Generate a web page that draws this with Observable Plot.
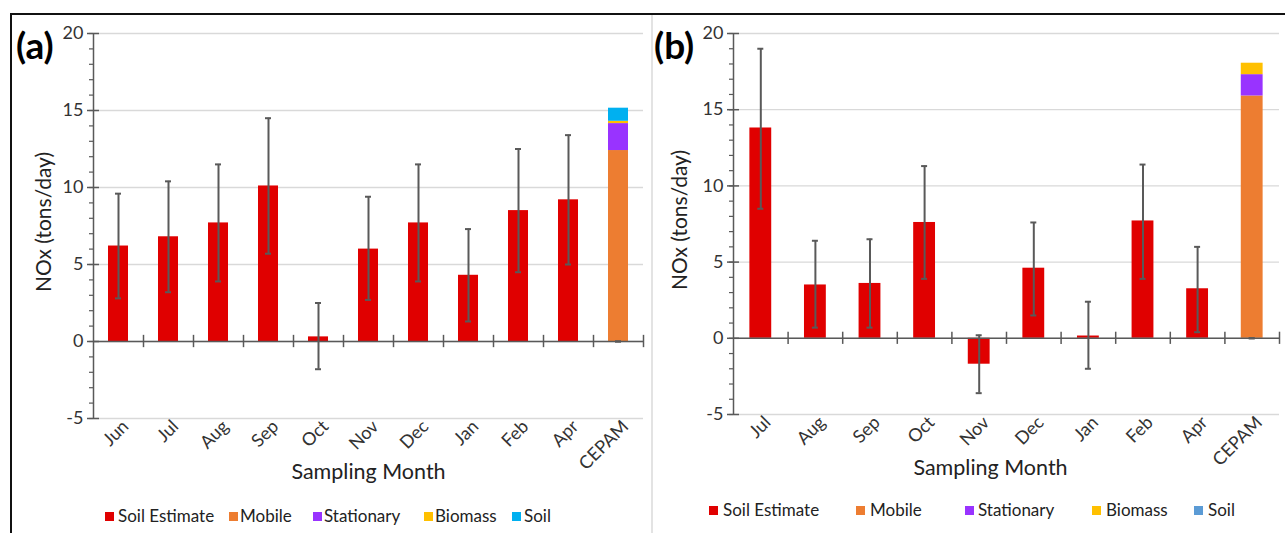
<!DOCTYPE html>
<html><head><meta charset="utf-8">
<script src="https://cdn.jsdelivr.net/npm/d3@7"></script>
<script src="https://cdn.jsdelivr.net/npm/@observablehq/plot@0.6"></script>
<style>
body{margin:0;background:#fff;font-family:Lato,"Open Sans",sans-serif;}
#page{position:relative;width:1285px;height:533px;overflow:hidden;background:#fff;}
.abs{position:absolute;}
.tag{position:absolute;font-weight:bold;font-size:37px;color:#000;line-height:1;}
.sw{position:absolute;width:9px;height:9px;}
.lt{position:absolute;font-size:17px;color:#222;line-height:1;white-space:nowrap;}
svg{overflow:visible;}
</style></head>
<body><div id="page"></div>
<script>
// ---- data ----
const legendLabels = ["Soil Estimate", "Mobile", "Stationary", "Biomass", "Soil"];
const sources = ["Mobile", "Stationary", "Biomass", "Soil"];
const yTicks = [-5, 0, 5, 10, 15, 20];
const yMinor = d3.range(-5, 21, 1);

const monthsA = ["Jun", "Jul", "Aug", "Sep", "Oct", "Nov", "Dec", "Jan", "Feb", "Apr"];
const soilEstA = [6.2, 6.8, 7.7, 10.1, 0.3, 6.0, 7.7, 4.3, 8.5, 9.2];
const errLowA = [2.8, 3.2, 3.9, 5.7, -1.8, 2.7, 3.9, 1.3, 4.5, 5.0];
const errHighA = [9.6, 10.4, 11.5, 14.5, 2.5, 9.4, 11.5, 7.3, 12.5, 13.4];
const cepamA = [12.4, 1.75, 0.15, 0.85];

const monthsB = ["Jul", "Aug", "Sep", "Oct", "Nov", "Dec", "Jan", "Feb", "Apr"];
const soilEstB = [13.8, 3.5, 3.6, 7.6, -1.7, 4.6, 0.15, 7.7, 3.25];
const errLowB = [8.5, 0.7, 0.7, 3.9, -3.6, 1.5, -2.0, 3.9, 0.4];
const errHighB = [19.0, 6.4, 6.5, 11.3, 0.2, 7.6, 2.4, 11.4, 6.0];
const cepamB = [15.9, 1.4, 0.75, 0];

const colorsA = ["#E00000", "#ED7D31", "#9933FF", "#FFC000", "#00B0F0"];
const colorsB = ["#E00000", "#ED7D31", "#9933FF", "#FFC000", "#5B9BD5"];

const page = document.getElementById("page");

function panel({months, est, lo, hi, cepam, colors, width, height, ml, mr, mt, mb, ylabDx, xlabDx, xlabDy}) {
  const cats = [...months, "CEPAM"];
  const n = cats.length;
  const step = (width - ml - mr) / n;
  const bw = step * 0.4;
  const capInset = (bw - 6) / 2;
  const rows = [];
  months.forEach((m, i) => rows.push({cat: m, source: "Soil Estimate", value: est[i]}));
  sources.forEach((s, i) => rows.push({cat: "CEPAM", source: s, value: cepam[i]}));
  const errs = months.map((m, i) => ({cat: m, lo: lo[i], hi: hi[i]}));
  errs.push({cat: "CEPAM", lo: 0, hi: 0});
  const axisColor = "#595959";
  return Plot.plot({
    width, height, marginLeft: ml, marginRight: mr, marginTop: mt, marginBottom: mb,
    style: {fontFamily: "Lato, sans-serif", fontSize: "18px", color: "#333", background: "transparent", overflow: "visible"},
    x: {domain: cats, paddingInner: 0.6, paddingOuter: 0.3, round: false, label: null},
    y: {domain: [-5, 20], label: null},
    color: {domain: legendLabels, range: colors},
    marks: [
      Plot.gridY(yTicks, {stroke: "#d9d9d9", strokeOpacity: 1, strokeWidth: 1.3}),
      Plot.barY(rows, {x: "cat", y: "value", fill: "source"}),
      Plot.ruleX(errs, {x: "cat", y1: "lo", y2: "hi", stroke: "#595959", strokeWidth: 2}),
      Plot.tickY(errs, {x: "cat", y: "lo", stroke: "#595959", strokeWidth: 2, insetLeft: capInset, insetRight: capInset}),
      Plot.tickY(errs, {x: "cat", y: "hi", stroke: "#595959", strokeWidth: 2, insetLeft: capInset, insetRight: capInset}),
      Plot.ruleY([0], {stroke: axisColor, strokeWidth: 1.5}),
      Plot.ruleX(cats, {x: d => d, y1: -0.4, y2: 0.4, dx: step / 2, stroke: axisColor, strokeWidth: 1.5}),
      Plot.ruleX([cats[0]], {x: d => d, y1: -5, y2: 20, dx: -step / 2, stroke: axisColor, strokeWidth: 1.5}),
      Plot.axisY({ticks: yTicks, tickSize: 12, dx: 6, text: null, stroke: axisColor, strokeWidth: 1.5}),
      Plot.axisY({ticks: yMinor, tickSize: 4, text: null, stroke: axisColor, strokeWidth: 1.2}),
      Plot.axisY({ticks: yTicks, tickSize: 0, tickPadding: 10, tickFormat: d => String(d), fontSize: 18, fill: "#333", label: null}),
      Plot.axisX({tickRotate: -45, tickSize: 0, tickPadding: 5, dx: 7, fontSize: 18, fill: "#333", label: null}),
      Plot.text(["NOx (tons/day)"], {frameAnchor: "left", textAnchor: "middle", rotate: -90, dx: ylabDx, dy: -4, fontSize: 21, fill: "#222"}),
      Plot.text(["Sampling Month"], {frameAnchor: "bottom", dx: xlabDx, dy: xlabDy, fontSize: 21.5, fill: "#222"})
    ]
  });
}

function place(el, left, top) {
  const wrap = document.createElement("div");
  wrap.className = "abs";
  wrap.style.left = left + "px";
  wrap.style.top = top + "px";
  wrap.appendChild(el);
  page.appendChild(wrap);
}

function line(l, t, w, h, c) {
  const d = document.createElement("div");
  d.className = "abs";
  Object.assign(d.style, {left: l + "px", top: t + "px", width: w + "px", height: h + "px", background: c});
  page.appendChild(d);
}

const plotA = panel({months: monthsA, est: soilEstA, lo: errLowA, hi: errHighA, cepam: cepamA, colors: colorsA,
  width: 641, height: 480, ml: 82, mr: 9, mt: 19, mb: 76, ylabDx: -49, xlabDx: 0, xlabDy: 60});
place(plotA, 11, 14);
const plotB = panel({months: monthsB, est: soilEstB, lo: errLowB, hi: errHighB, cepam: cepamB, colors: colorsB,
  width: 632, height: 480, ml: 80, mr: 6, mt: 19, mb: 80, ylabDx: -53, xlabDx: -16, xlabDy: 60});
place(plotB, 653, 14);

line(10, 13, 1275, 2, "#111");
line(10, 13, 2, 520, "#111");
line(651, 15, 2, 518, "#e3e3e3");

function tag(txt, l, t) {
  const d = document.createElement("div");
  d.className = "tag"; d.textContent = txt;
  d.style.left = l + "px"; d.style.top = t + "px";
  page.appendChild(d);
}
tag("(a)", 16, 26);
tag("(b)", 654, 26);

function legend(colors, sq, tx, y) {
  legendLabels.forEach((lab, i) => {
    const s = document.createElement("div");
    s.className = "sw"; s.style.background = colors[i];
    s.style.left = sq[i] + "px"; s.style.top = (y - 4.5) + "px";
    page.appendChild(s);
    const t = document.createElement("div");
    t.className = "lt"; t.textContent = lab;
    t.style.left = tx[i] + "px"; t.style.top = (y - 9) + "px";
    page.appendChild(t);
  });
}
legend(colorsA, [105, 229, 313, 424, 512], [118, 240, 324, 435, 524], 516);
legend(colorsB, [709, 856, 965, 1092, 1194], [723, 870, 978, 1106, 1208], 510);
</script>
</body></html>
